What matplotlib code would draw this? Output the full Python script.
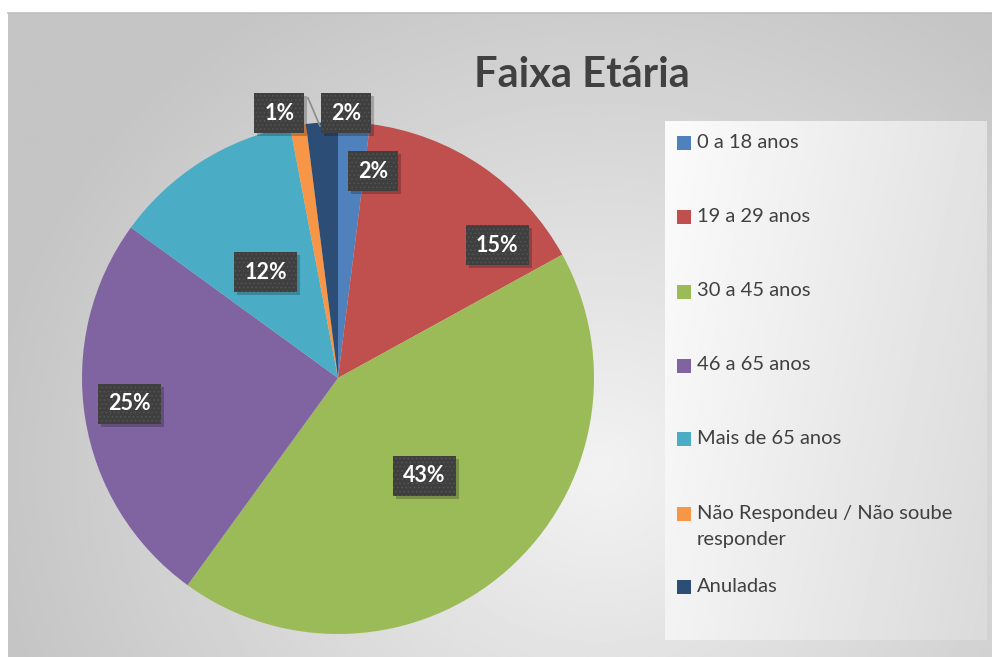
import numpy as np
import matplotlib
matplotlib.use("Agg")
import matplotlib.pyplot as plt
from matplotlib.patches import Rectangle

# ---- data ----
categories = ["0 a 18 anos", "19 a 29 anos", "30 a 45 anos", "46 a 65 anos",
              "Mais de 65 anos", "Não Respondeu / Não soube\nresponder", "Anuladas"]
values = [2, 15, 43, 25, 12, 1, 2]
title = "Faixa Etária"

# ---- style ----
colors = ["#4f81bd", "#c0504d", "#9bbb59", "#8064a2", "#4bacc6", "#f79646", "#2c4d75"]
W, H = 992, 657
FONT = "Lato"
plt.rcParams["hatch.linewidth"] = 0.6

fig = plt.figure(figsize=(W / 100, H / 100), dpi=100)
fig.patch.set_facecolor("white")
ax = fig.add_axes([0, 0, 1, 1])
ax.set_xlim(0, W)
ax.set_ylim(0, H)
ax.axis("off")

def Y(py):
    return H - py

# background radial gradient (chart area)
x0, x1, y0, y1 = 8, 992, 13, 657
gx = np.linspace(x0, x1, 400)
gy = np.linspace(y0, y1, 260)
GX, GY = np.meshgrid(gx, gy)
d = np.sqrt(((GX - 600) / 620) ** 2 + ((GY - 470) / 560) ** 2)
d = np.clip(d, 0, 1)
inner, outer = 0.95, 0.77
img = inner + (outer - inner) * d
ax.imshow(img, cmap="gray", vmin=0, vmax=1, extent=(x0, x1, Y(y1), Y(y0)),
          origin="upper", aspect="auto", zorder=0, interpolation="bilinear")
ax.plot([x0, x1], [Y(y0), Y(y0)], color="#bdbdbd", lw=1.2, zorder=1)

# legend box gradient
lx0, lx1, ly0, ly1 = 665, 987, 121, 640
lgx = np.linspace(0, 1, 300)
lgy = np.linspace(0, 1, 200)
LGX, LGY = np.meshgrid(lgx, lgy)
limg = 0.985 - 0.13 * (0.75 * LGX + 0.25 * LGY)
ax.imshow(limg, cmap="gray", vmin=0, vmax=1, extent=(lx0, lx1, Y(ly1), Y(ly0)),
          origin="upper", aspect="auto", zorder=1, interpolation="bilinear")

# pie
cx, cy, R = 338, 378, 256
wedges, _ = ax.pie(values, colors=colors, startangle=90, counterclock=False,
                   center=(cx, Y(cy)), radius=R, wedgeprops=dict(linewidth=0),
                   normalize=True)
for w in wedges:
    w.set_zorder(3)
ax.set_xlim(0, W)
ax.set_ylim(0, H)
ax.set_aspect("auto")

# data labels
label_dist = [0.82, 0.81, 0.51, 0.82, 0.50, 1.06, 1.035]
label_shift_cw = [6, 16, 0, 2, -2, -3.5, 5.3]
texts = []
for w, v, dist, sh in zip(wedges, values, label_dist, label_shift_cw):
    mid = np.deg2rad((w.theta1 + w.theta2) / 2 - sh)
    tx = cx + dist * R * np.cos(mid)
    ty = Y(cy) + dist * R * np.sin(mid)
    t = ax.text(tx, ty, f"{v}%", ha="center", va="center", fontsize=15.5,
                fontweight="bold", family=FONT, color="white", zorder=7)
    texts.append((t, tx, ty))

fig.canvas.draw()
renderer = fig.canvas.get_renderer()
BOX_H = 40
for t, tx, ty in texts:
    ext = t.get_window_extent(renderer)
    bw = ext.width + 20
    # shadow
    ax.add_patch(Rectangle((tx - bw / 2 + 3, ty - BOX_H / 2 - 3), bw, BOX_H,
                           fc=(0, 0, 0, 0.22), ec="none", zorder=5))
    ax.add_patch(Rectangle((tx - bw / 2, ty - BOX_H / 2), bw, BOX_H,
                           fc="#3f3f3f", ec="#545454", lw=0, hatch="....",
                           zorder=6))

# leader line for the last (Anuladas) label
ax.plot([308, 320], [Y(98), Y(126)], color="#8c8c8c", lw=1.2, zorder=4)

# title
ax.text(582, Y(75), title, ha="center", va="center", fontsize=30,
        fontweight="bold", family=FONT, color="#404040", zorder=6)

# legend
leg_y = [143, 217, 292, 366, 439, 514, 587]
LINE_GAP = 27
for c, lab, ly in zip(colors, categories, leg_y):
    ax.add_patch(Rectangle((677, Y(ly) - 7), 14, 14, fc=c, ec="none", zorder=6))
    for k, part in enumerate(lab.split("\n")):
        ax.text(697, Y(ly + k * LINE_GAP) + 1, part, ha="left", va="center",
                fontsize=14.5, family=FONT, color="#404040", zorder=6)

fig.savefig("out.png", dpi=100, facecolor="white")
